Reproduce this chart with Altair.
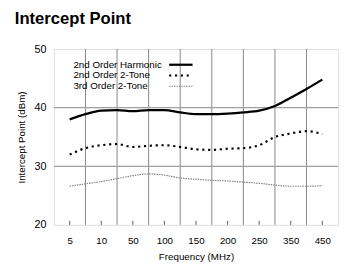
import altair as alt
import pandas as pd

freq_labels = ["5", "10", "50", "100", "150", "200", "250", "350", "450"]

# positions along the evenly spaced category axis (0 = "5" ... 8 = "450")
pos = [0, 0.5, 1, 1.5, 2, 2.5, 3, 3.5, 4, 4.5, 5, 5.5, 6, 6.5, 7, 7.5, 8]

harmonic_2nd = [38.0, 38.9, 39.5, 39.6, 39.4, 39.6, 39.6, 39.2, 38.9, 38.9,
                39.0, 39.2, 39.5, 40.3, 41.7, 43.2, 44.8]
two_tone_2nd = [32.0, 33.1, 33.6, 33.8, 33.3, 33.5, 33.6, 33.3, 32.9, 32.8,
                33.0, 33.1, 33.6, 35.0, 35.6, 36.0, 35.5]
two_tone_3rd = [26.6, 27.0, 27.4, 27.9, 28.4, 28.7, 28.5, 28.0, 27.8, 27.6,
                27.5, 27.3, 27.1, 26.8, 26.6, 26.6, 26.7]

series_names = ["2nd Order Harmonic", "2nd Order 2-Tone", "3rd Order 2-Tone"]

vgrid = [0.5, 1.5, 2.5, 3.5, 4.5, 5.5, 6.5, 7.5]
hgrid = [30, 40]
tick_pos = list(range(len(freq_labels)))

FONT = "Liberation Sans"

xscale = alt.Scale(domain=[-0.5, 8.5], nice=False, zero=False)
yscale = alt.Scale(domain=[20, 50], nice=False, zero=False)

label_expr = "[" + ",".join('"%s"' % s for s in freq_labels) + "][datum.value]"

x_axis = alt.Axis(values=tick_pos, labelExpr=label_expr, title="Frequency (MHz)",
                  grid=False, ticks=False, domain=False, labelPadding=11,
                  labelOverlap=False, labelFlush=False,
                  labelFontSize=10, labelFont=FONT, labelColor="black",
                  titleFont=FONT, titleFontSize=10, titleFontWeight="normal",
                  titlePadding=6, titleColor="black")
y_axis = alt.Axis(values=[20, 30, 40, 50], title="Intercept Point (dBm)",
                  grid=False, ticks=False, domain=False, labelPadding=8,
                  labelOverlap=False, labelFlush=False,
                  labelFontSize=11, labelFont=FONT, labelColor="black",
                  titleFont=FONT, titleFontSize=10, titleFontWeight="normal",
                  titlePadding=8, titleColor="black")


def X(field):
    return alt.X(field, scale=xscale, axis=x_axis)


def Y(field):
    return alt.Y(field, scale=yscale, axis=y_axis)


df = pd.DataFrame({"pos": pos, "h2": harmonic_2nd, "t2": two_tone_2nd, "t3": two_tone_3rd})

base = alt.Chart(df)

vg = alt.Chart(pd.DataFrame({"x": vgrid})).mark_rule(color="#666", strokeWidth=0.8).encode(
    x=X("x:Q"))
hg = alt.Chart(pd.DataFrame({"y": hgrid})).mark_rule(color="#a0a0a0", strokeWidth=1.3).encode(
    y=Y("y:Q"))
ticks = alt.Chart(pd.DataFrame({"x": tick_pos, "y0": [20] * 9, "y1": [20.7] * 9})).mark_rule(
    color="#333", strokeWidth=0.8).encode(x=X("x:Q"), y=Y("y0:Q"), y2="y1:Q")

DOTS = dict(color="black", strokeWidth=2.2, strokeDash=[2.2, 3.8])
GRAY = dict(color="#808080", strokeWidth=1.2, strokeDash=[1.5, 1])
SOLID = dict(color="black", strokeWidth=2.3)

l3 = base.mark_line(interpolate="monotone", **GRAY).encode(x=X("pos:Q"), y=Y("t3:Q"))
l2 = base.mark_line(interpolate="monotone", **DOTS).encode(x=X("pos:Q"), y=Y("t2:Q"))
l1 = base.mark_line(interpolate="monotone", **SOLID).encode(x=X("pos:Q"), y=Y("h2:Q"))

# in-plot legend (text on the left, line sample on the right)
row_y = [16, 27, 38]
sym_styles = [SOLID, DOTS, GRAY]
legend_layers = []
for name, yy, st in zip(series_names, row_y, sym_styles):
    legend_layers.append(
        alt.Chart(pd.DataFrame({"name": [name]})).mark_text(
            align="left", baseline="middle", fontSize=10, font=FONT, color="black"
        ).encode(x=alt.value(20), y=alt.value(yy), text="name:N"))
    legend_layers.append(
        alt.Chart(pd.DataFrame({"name": [name]})).mark_rule(**st).encode(
            x=alt.value(118), x2=alt.value(142), y=alt.value(yy)))

chart = alt.layer(vg, hg, ticks, l3, l2, l1, *legend_layers).properties(
    width=291, height=180,
    autosize=alt.AutoSizeParams(type="none"),
    padding={"left": 47, "top": 39, "right": 4, "bottom": 40},
    title=alt.TitleParams("Intercept Point", anchor="start", font=FONT,
                          fontSize=17, fontWeight="bold", color="black",
                          frame="group", dx=-40, offset=16),
).configure_view(stroke="black", strokeWidth=1.5).configure(background="white")

chart.save("out.html", embed_options={"renderer": "svg", "actions": False})
